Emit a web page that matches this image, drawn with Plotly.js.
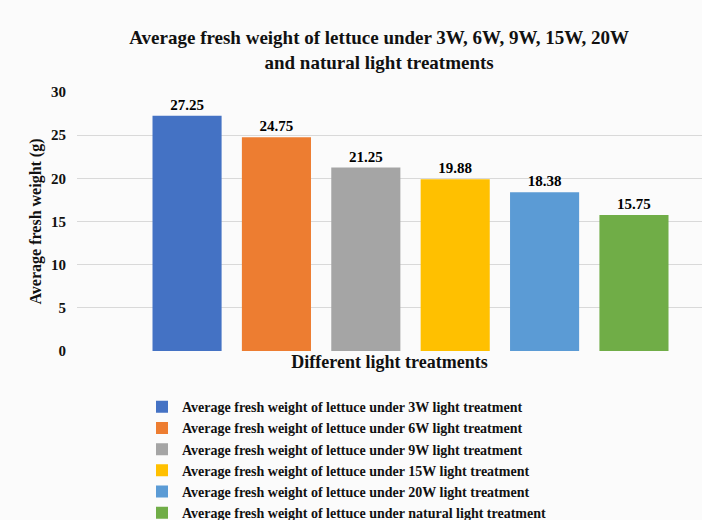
<!DOCTYPE html>
<html>
<head>
<meta charset="utf-8">
<script src="https://cdn.plot.ly/plotly-3.0.1.min.js"></script>
<style>html,body{margin:0;padding:0;background:#fbfbfb;}</style>
</head>
<body>
<div id="chart" style="width:702px;height:520px;"></div>
<script>
const category = ["Different light treatments"];
const seriesNames = [
  "Average fresh weight of lettuce under 3W light treatment",
  "Average fresh weight of lettuce under 6W light treatment",
  "Average fresh weight of lettuce under 9W light treatment",
  "Average fresh weight of lettuce under 15W light treatment",
  "Average fresh weight of lettuce under 20W light treatment",
  "Average fresh weight of lettuce under natural light treatment"
];
const values = [27.25, 24.75, 21.25, 19.88, 18.38, 15.75];
const colors = ["#4472C4", "#ED7D31", "#A5A5A5", "#FFC000", "#5B9BD5", "#70AD47"];
const yTicks = [0, 5, 10, 15, 20, 25, 30];

const serif = "Liberation Serif, Times New Roman, serif";

const traces = seriesNames.map((name, i) => ({
  type: "bar",
  name: name,
  x: category,
  y: [values[i]],
  marker: {color: colors[i]},
  text: [values[i].toFixed(2)],
  texttemplate: "%{text}",
  textposition: "outside",
  cliponaxis: false,
  textfont: {family: serif, size: 15, color: "#000", weight: "bold"},
  hoverinfo: "skip"
}));

const layout = {
  width: 702,
  height: 520,
  paper_bgcolor: "#fbfbfb",
  plot_bgcolor: "#fbfbfb",
  margin: {l: 77, r: 0, t: 92, b: 169, autoexpand: false},
  barmode: "group",
  bargap: 0.196,
  bargroupgap: 0.227,
  font: {family: serif, color: "#000"},
  title: {
    text: "<b>Average fresh weight of lettuce under 3W, 6W, 9W, 15W, 20W<br>and natural light treatments</b>",
    font: {family: serif, size: 19, color: "#111"},
    xref: "container", x: 0.54, xanchor: "center",
    yref: "container", y: 0.915, yanchor: "top"
  },
  xaxis: {
    range: [-0.5, 0.437],
    showticklabels: false,
    showgrid: false,
    zeroline: false,
    showline: false,
    title: {
      text: "<b>Different light treatments</b>",
      font: {family: serif, size: 18, color: "#111"},
      standoff: 4
    }
  },
  yaxis: {
    range: [0, 30],
    tickvals: yTicks,
    ticktext: yTicks.map(String),
    tickfont: {family: serif, size: 15, color: "#111", weight: "bold"},
    ticklabelstandoff: 10,
    showgrid: true,
    gridcolor: "#d9d9d9",
    gridwidth: 1,
    zeroline: false,
    showline: false,
    title: {
      text: "<b>Average fresh weight (g)</b>",
      font: {family: serif, size: 16, color: "#111"},
      standoff: 5
    }
  },
  legend: {
    orientation: "v",
    x: 0.104, xanchor: "left",
    y: -0.155, yanchor: "top",
    font: {family: serif, size: 14, color: "#111", weight: "bold"},
    bgcolor: "rgba(0,0,0,0)",
    tracegroupgap: 0,
    itemclick: false
  },
  showlegend: true
};

Plotly.newPlot("chart", traces, layout, {displayModeBar: false, staticPlot: true});
</script>
</body>
</html>
